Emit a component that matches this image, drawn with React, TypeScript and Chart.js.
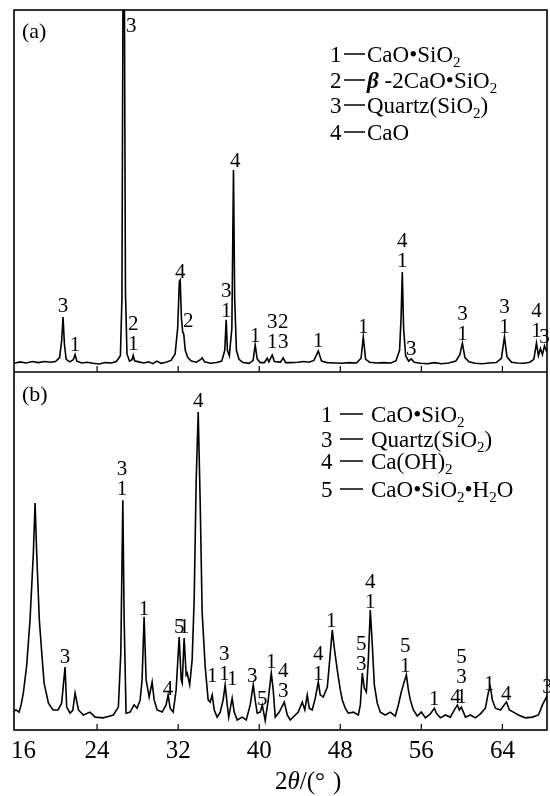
import { useEffect, useRef } from "react";
import { Chart, registerables } from "chart.js";

Chart.register(...registerables);

// ---------- data ----------
const X_MIN = 15.8;
const X_MAX = 68.4;
const X_TICKS = [16, 24, 32, 40, 48, 56, 64];
const X_TITLE = ["2", "θ", "/(", "°", ")"];

// panel (a) pattern
const TWO_THETA_A = [
  15.8, 16.4, 17.0, 17.6, 18.2, 18.8, 19.4, 19.9, 20.3, 20.5, 20.64, 20.78, 20.95, 21.3, 21.65, 21.83, 22.0,
  22.5, 23.0, 23.6, 24.2, 24.8, 25.4, 25.9, 26.3, 26.45, 26.55, 26.7, 26.8, 26.95, 27.2, 27.45, 27.56, 27.7,
  28.1, 28.6, 29.1, 29.5, 29.9, 30.3, 30.8, 31.3, 31.7, 31.95, 32.12, 32.2, 32.32, 32.45, 32.55, 32.7, 32.95,
  33.3, 33.8, 34.2, 34.37, 34.6, 35.2, 35.8, 36.3, 36.6, 36.74, 36.86, 37.05, 37.3, 37.46, 37.58, 37.75, 38.0,
  38.4, 39.0, 39.4, 39.6, 39.8, 40.1, 40.5, 40.79, 40.95, 41.28, 41.5, 41.85, 42.1, 42.37, 42.6, 43.2, 43.8,
  44.4, 44.9, 45.4, 45.83, 46.15, 46.7, 47.5, 48.2, 48.9, 49.6, 50.05, 50.27, 50.5, 50.9, 51.6, 52.3, 53.0,
  53.5, 53.85, 54.0, 54.12, 54.25, 54.45, 54.75, 55.0, 55.3, 55.9, 56.6, 57.3, 58.0, 58.7, 59.4, 59.8, 60.05,
  60.3, 60.7, 61.3, 62.0, 62.7, 63.4, 63.9, 64.2, 64.45, 64.9, 65.5, 66.1, 66.7, 67.1, 67.36, 67.55, 67.75,
  67.95, 68.15, 68.4,
];
const INTENSITY_A = [
  2.4, 2.8, 2.5, 2.9, 2.6, 2.9, 2.7, 2.9, 4.0, 8.5, 15.2, 7.5, 3.5, 2.8, 3.4, 4.8, 3.0,
  2.5, 2.7, 2.4, 2.2, 2.6, 2.5, 2.9, 4.5, 20, 100, 100, 22, 5, 3.0, 3.4, 4.6, 3.1,
  2.8, 2.5, 2.8, 2.3, 3.0, 2.4, 2.7, 3.2, 5, 12, 25, 25.4, 15, 11, 10.5, 6, 4,
  3.0, 2.7, 3.4, 3.9, 2.8, 2.4, 2.6, 3.0, 6, 14.4, 6, 4.5, 12, 55.8, 20, 6, 3.5,
  2.6, 2.4, 3.2, 7.5, 3.6, 2.6, 2.6, 3.8, 2.8, 4.7, 2.9, 2.8, 2.7, 3.9, 2.6, 2.6, 2.7,
  2.9, 2.7, 3.2, 5.8, 3.0, 2.6, 2.5, 2.4, 2.6, 2.5, 3.8, 9.7, 3.5, 2.7, 2.5, 2.6, 2.5,
  3.1, 6, 15, 27.6, 12, 4.5, 3.0, 3.6, 2.7, 2.4, 2.3, 2.6, 2.3, 2.5, 3.0, 4.8, 8.0,
  4.0, 2.8, 2.4, 2.3, 2.5, 2.6, 3.8, 9.7, 4.2, 2.7, 2.5, 2.4, 2.7, 3.5, 8.0, 4.5, 6.5,
  4.8, 7.2, 5.5,
];

// panel (b) pattern
const TWO_THETA_B = [
  15.8, 16.0, 16.3, 16.5, 16.72, 17.05, 17.38, 17.71, 17.88, 18.04, 18.3, 18.54, 18.77, 19.2, 19.65, 20.15,
  20.5, 20.84, 21.0, 21.33, 21.6, 21.83, 22.16, 22.65, 23.3, 23.8, 24.6, 25.1, 25.6, 26.1, 26.34, 26.54,
  26.67, 26.86, 27.26, 27.65, 27.95, 28.25, 28.44, 28.64, 28.84, 29.14, 29.43, 29.63, 29.93, 30.42, 30.81,
  31.01, 31.21, 31.51, 31.8, 32.1, 32.3, 32.4, 32.59, 32.79, 32.89, 33.14, 33.38, 33.58, 33.78, 33.98, 34.17,
  34.37, 34.67, 34.96, 35.16, 35.36, 35.56, 35.85, 36.15, 36.44, 36.64, 36.84, 36.99, 37.33, 37.53, 37.83,
  38.32, 38.72, 39.11, 39.41, 39.6, 39.8, 40.1, 40.3, 40.59, 40.89, 41.19, 41.38, 41.58, 41.98, 42.47, 42.77,
  43.06, 43.46, 43.85, 44.25, 44.5, 44.74, 44.94, 45.23, 45.53, 45.83, 46.02, 46.32, 46.72, 47.0, 47.21,
  47.41, 47.7, 48.0, 48.2, 48.49, 48.79, 49.28, 49.78, 49.98, 50.17, 50.37, 50.57, 50.77, 50.96, 51.16,
  51.36, 51.65, 51.95, 52.44, 52.94, 53.43, 53.73, 54.02, 54.22, 54.52, 54.72, 54.91, 55.21, 55.6, 56.0,
  56.4, 56.89, 57.28, 57.48, 57.88, 58.37, 58.86, 59.26, 59.56, 59.75, 59.95, 60.35, 60.84, 61.33, 61.83,
  62.32, 62.62, 62.81, 63.01, 63.31, 63.8, 64.1, 64.4, 64.69, 65.09, 65.58, 66.27, 66.96, 67.56, 67.95,
  68.35, 68.4,
];
const INTENSITY_B = [
  5.3, 5.6, 5.0, 7.0, 10.3, 18, 30.7, 49.4, 63.4, 49.4, 30.7, 21.5, 13.1, 7.5, 5.6, 5.6,
  7.5, 17.6, 6.4, 4.7, 5.5, 10.3, 5.6, 4.2, 5.0, 3.6, 3.4, 3.8, 4.2, 6.4, 21.5, 64.2,
  30.7, 4.7, 5.0, 7.0, 6.1, 8.4, 14.0, 31.6, 14.0, 9.2, 13.4, 8.4, 5.6, 5.0, 7.0,
  9.8, 6.1, 5.0, 11.2, 26.0, 14.0, 13.1, 25.7, 15.4, 15.9, 12.6, 19.6, 36.3, 69.8, 88.8, 64.2,
  32.7, 17.6, 8.4, 7.8, 9.8, 5.6, 3.6, 5.0, 8.4, 12.6, 7.0, 3.6, 8.9, 5.0, 2.8,
  3.6, 2.8, 7.0, 12.6, 8.4, 4.7, 5.0, 7.0, 2.6, 8.4, 15.9, 11.2, 3.6, 5.0, 7.8, 4.2,
  2.8, 3.9, 5.0, 7.8, 5.6, 9.8, 6.1, 5.6, 8.9, 13.4, 9.8, 9.2, 12.0, 20.9, 27.9,
  22.9, 16.8, 11.2, 8.4, 6.1, 4.7, 5.0, 4.2, 7.0, 15.9, 11.7, 10.6, 19.6, 33.5, 23.7,
  12.6, 7.5, 5.0, 4.2, 5.0, 3.9, 7.0, 10.6, 12.6, 15.4, 11.2, 8.4, 5.6, 3.9, 5.0,
  3.4, 4.5, 6.1, 4.7, 3.4, 4.2, 3.6, 5.6, 7.0, 5.6, 6.4, 3.6, 4.2, 3.4, 4.5,
  6.1, 10.6, 12.0, 8.4, 6.1, 5.6, 6.7, 7.8, 5.6, 5.0, 4.2, 3.4, 3.6, 4.2, 7.0,
  9.2, 8.5,
];

// peak labels: [2θ, label baseline intensity, stacked labels top→bottom]
const PEAKS_A: [number, number, string[]][] = [
  [20.64, 16.6, ["3"]],
  [21.83, 5.8, ["1"]],
  [27.36, 93.9, ["3"]],
  [27.56, 6.1, ["2", "1"]],
  [32.2, 26.0, ["4"]],
  [32.99, 12.4, ["2"]],
  [36.74, 15.2, ["3", "1"]],
  [37.63, 56.6, ["4"]],
  [39.6, 8.3, ["1"]],
  [41.28, 6.6, ["3", "1"]],
  [42.37, 6.6, ["2", "3"]],
  [45.83, 6.9, ["1"]],
  [50.27, 10.8, ["1"]],
  [54.12, 29.0, ["4", "1"]],
  [55.01, 4.7, ["3"]],
  [60.05, 8.8, ["3", "1"]],
  [64.2, 10.8, ["3", "1"]],
  [67.36, 9.7, ["4", "1"]],
  [68.15, 8.0, ["3"]],
];
const PEAKS_B: [number, number, string[]][] = [
  [20.84, 18.7, ["3"]],
  [26.47, 65.6, ["3", "1"]],
  [28.64, 32.1, ["1"]],
  [31.01, 9.8, ["4"]],
  [32.1, 27.1, ["5"]],
  [32.59, 27.1, ["1"]],
  [33.98, 90.2, ["4"]],
  [35.36, 13.4, ["1"]],
  [36.54, 14.0, ["3", "1"]],
  [37.33, 12.6, ["1"]],
  [39.31, 13.4, ["3"]],
  [40.3, 7.0, ["5"]],
  [41.19, 17.3, ["1"]],
  [42.37, 9.2, ["4", "3"]],
  [45.83, 14.0, ["4", "1"]],
  [47.1, 28.8, ["1"]],
  [50.07, 16.8, ["5", "3"]],
  [50.96, 34.1, ["4", "1"]],
  [54.42, 16.2, ["5", "1"]],
  [57.28, 7.0, ["1"]],
  [59.36, 7.5, ["4"]],
  [59.95, 7.5, ["5", "3", "1"]],
  [62.71, 11.2, ["1"]],
  [64.39, 8.4, ["4"]],
  [68.44, 10.3, ["3"]],
];

const PANEL_NAMES = ["(a)", "(b)"];
const LEGEND_A_NUM = ["1", "2", "3", "4"];
const LEGEND_A_TEXT = ["CaO•SiO_2", "*β* -2CaO•SiO_2", "Quartz(SiO_2)", "CaO"];
const LEGEND_B_NUM = ["1", "3", "4", "5"];
const LEGEND_B_TEXT = ["CaO•SiO_2", "Quartz(SiO_2)", "Ca(OH)_2", "CaO•SiO_2•H_2O"];

// ---------- drawing helpers ----------
const SERIF = '"Liberation Serif", "Times New Roman", serif';
const TOP_FRACTION = 362 / 720; // share of plot height used by panel (a)
const PANEL_MAX = 100;

function drawRich(ctx: CanvasRenderingContext2D, text: string, x: number, y: number, size: number) {
  let italic = false;
  let cx = x;
  for (let i = 0; i < text.length; i++) {
    const ch = text[i];
    if (ch === "*") {
      italic = !italic;
      continue;
    }
    if (ch === "_" && i + 1 < text.length) {
      const s = text[i + 1];
      i++;
      const ss = Math.round(size * 0.66);
      ctx.font = `${ss}px ${SERIF}`;
      ctx.fillText(s, cx, y + size * 0.22);
      cx += ctx.measureText(s).width;
      continue;
    }
    ctx.font = `${italic ? "italic bold " : ""}${size}px ${SERIF}`;
    ctx.fillText(ch, cx, y);
    cx += ctx.measureText(ch).width;
  }
}

const overlay = {
  id: "xrdOverlay",
  afterDraw(chart: any) {
    const ctx: CanvasRenderingContext2D = chart.ctx;
    const { left, right, top, bottom } = chart.chartArea;
    const xs = chart.scales.x;
    const ya = chart.scales.yA;
    const yb = chart.scales.yB;
    const mid = yb.getPixelForValue(PANEL_MAX);
    ctx.save();
    ctx.strokeStyle = "#000";
    ctx.fillStyle = "#000";
    ctx.lineWidth = 1.6;
    ctx.strokeRect(left, top, right - left, bottom - top);
    ctx.beginPath();
    ctx.moveTo(left, mid);
    ctx.lineTo(right, mid);
    ctx.stroke();

    // inward ticks and tick labels
    ctx.lineWidth = 1.2;
    ctx.font = `25px ${SERIF}`;
    ctx.textAlign = "center";
    ctx.textBaseline = "alphabetic";
    for (const t of X_TICKS) {
      const px = xs.getPixelForValue(t);
      if (px > left + 3) {
        ctx.beginPath();
        ctx.moveTo(px, bottom);
        ctx.lineTo(px, bottom - 6);
        ctx.moveTo(px, mid);
        ctx.lineTo(px, mid - 6);
        ctx.stroke();
      }
      const label = String(t);
      const w = ctx.measureText(label).width;
      const cx = Math.max(px, left + w / 2 - 3);
      ctx.fillText(label, cx, bottom + 28);
    }

    // axis title 2θ/(°)
    ctx.textAlign = "left";
    let tx = 275;
    const ty = bottom + 59;
    X_TITLE.forEach((seg, i) => {
      ctx.font = `${i === 1 ? "italic " : ""}25px ${SERIF}`;
      if (i === 4) tx += 8;
      ctx.fillText(seg, tx, ty);
      tx += ctx.measureText(seg).width;
    });

    // panel letters
    ctx.font = `22px ${SERIF}`;
    ctx.fillText(PANEL_NAMES[0], left + 8, top + 28);
    ctx.fillText(PANEL_NAMES[1], left + 8, mid + 29);

    // legends
    const legend = (nums: string[], texts: string[], numX: number, dash0: number, dash1: number, textX: number, ys: number[]) => {
      nums.forEach((n, i) => {
        const y = ys[i];
        ctx.font = `23px ${SERIF}`;
        ctx.textAlign = "left";
        ctx.fillText(n, numX, y);
        ctx.lineWidth = 1.5;
        ctx.beginPath();
        ctx.moveTo(dash0, y - 8);
        ctx.lineTo(dash1, y - 8);
        ctx.stroke();
        drawRich(ctx, texts[i], textX, y, 23);
      });
    };
    legend(LEGEND_A_NUM, LEGEND_A_TEXT, 330, 344, 365, 367, [top + 52, top + 78, top + 103, top + 130]);
    legend(LEGEND_B_NUM, LEGEND_B_TEXT, 321, 340, 363, 371, [mid + 50, mid + 75, mid + 97, mid + 125]);

    // peak labels
    ctx.font = `21px ${SERIF}`;
    ctx.textAlign = "center";
    const peaks = (list: [number, number, string[]][], ys: any) => {
      for (const [x, y, labels] of list) {
        const px = xs.getPixelForValue(x);
        const py = ys.getPixelForValue(y);
        const n = labels.length;
        labels.forEach((lab, i) => {
          ctx.fillText(lab, px, py - (n - 1 - i) * 20);
        });
      }
    };
    peaks(PEAKS_A, ya);
    peaks(PEAKS_B, yb);
    ctx.restore();
  },
};

export default function App() {
  const ref = useRef<HTMLCanvasElement | null>(null);
  useEffect(() => {
    document.body.style.margin = "0";
    const canvas = ref.current;
    if (!canvas) return;
    const chart = new Chart(canvas, {
      type: "line",
      data: {
        datasets: [
          {
            label: "(a)",
            data: TWO_THETA_A.map((x, i) => ({ x, y: INTENSITY_A[i] })),
            yAxisID: "yA",
            borderColor: "#000",
            borderWidth: 1.6,
            pointRadius: 0,
            tension: 0,
            fill: false,
          },
          {
            label: "(b)",
            data: TWO_THETA_B.map((x, i) => ({ x, y: INTENSITY_B[i] })),
            yAxisID: "yB",
            borderColor: "#000",
            borderWidth: 1.6,
            pointRadius: 0,
            tension: 0,
            fill: false,
          },
        ],
      },
      options: {
        responsive: false,
        animation: false,
        devicePixelRatio: 1,
        layout: { padding: { left: 14, right: 3, top: 10, bottom: 66 } },
        plugins: { legend: { display: false }, tooltip: { enabled: false } },
        events: [],
        scales: {
          x: { type: "linear", min: X_MIN, max: X_MAX, display: false },
          yA: {
            type: "linear",
            min: PANEL_MAX - PANEL_MAX / TOP_FRACTION,
            max: PANEL_MAX,
            display: false,
          },
          yB: {
            type: "linear",
            min: 0,
            max: PANEL_MAX / (1 - TOP_FRACTION),
            display: false,
          },
        },
      },
      plugins: [overlay],
    });
    return () => chart.destroy();
  }, []);
  return (
    <div style={{ width: 550, height: 796, background: "#fff" }}>
      <canvas ref={ref} width={550} height={796} style={{ display: "block" }} />
    </div>
  );
}
